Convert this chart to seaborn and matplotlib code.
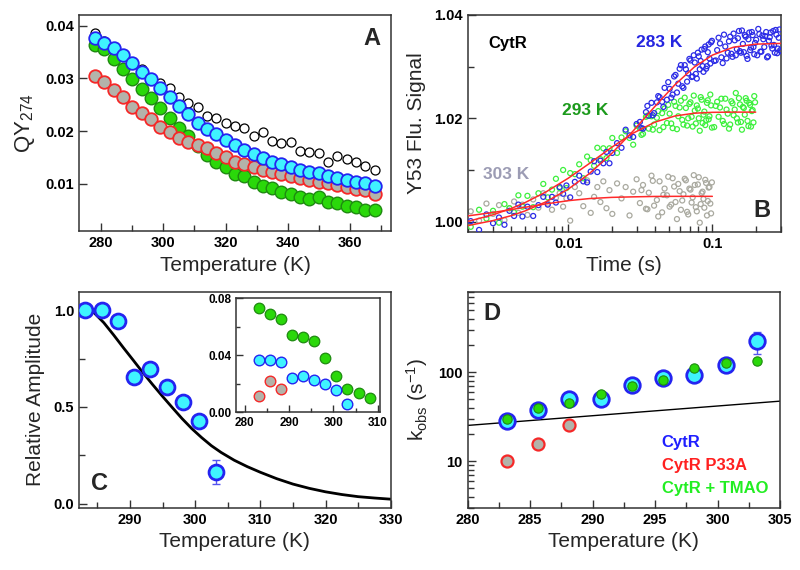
import matplotlib
matplotlib.use("Agg")
import matplotlib.pyplot as plt
import matplotlib.ticker as mticker
import numpy as np
import pandas as pd
import seaborn as sns

sns.set_theme(style="ticks")
plt.rcParams['font.family'] = ['Liberation Sans', 'DejaVu Sans']
plt.rcParams['mathtext.default'] = 'regular'
plt.rcParams['axes.linewidth'] = 1.1
plt.rcParams['axes.edgecolor'] = '#333333'

# ---------------- Panel A data ----------------
tA = [278, 281, 284, 287, 290, 293, 296, 299, 302, 305, 308, 311, 314, 317, 320, 323,
      326, 329, 332, 335, 338, 341, 344, 347, 350, 353, 356, 359, 362, 365, 368]
qy_black = [0.0386, 0.0372, 0.0360, 0.0346, 0.0332, 0.0318, 0.0300, 0.0292, 0.0281, 0.0265,
            0.0253, 0.0246, 0.0229, 0.0224, 0.0215, 0.0209, 0.0205, 0.0191, 0.0199, 0.0181,
            0.0177, 0.0179, 0.0162, 0.0161, 0.0158, 0.0141, 0.0153, 0.0147, 0.0141, 0.0134, 0.0126]
qy_cyan = [0.0376, 0.0368, 0.0357, 0.0344, 0.0330, 0.0313, 0.0298, 0.0281, 0.0265, 0.0248,
           0.0232, 0.0215, 0.0204, 0.0194, 0.0183, 0.0173, 0.0165, 0.0156, 0.0148, 0.0142,
           0.0137, 0.0132, 0.0127, 0.0123, 0.0120, 0.0115, 0.0110, 0.0107, 0.0104, 0.0101, 0.0096]
qy_green = [0.0363, 0.0356, 0.0336, 0.0317, 0.0299, 0.0280, 0.0262, 0.0243, 0.0225, 0.0205,
            0.0191, 0.0172, 0.0155, 0.0142, 0.0131, 0.0118, 0.0115, 0.0104, 0.0096, 0.0091,
            0.0085, 0.0080, 0.0075, 0.0071, 0.0074, 0.0065, 0.0063, 0.0058, 0.0056, 0.0051, 0.0050]
qy_red = [0.0304, 0.0294, 0.0278, 0.0264, 0.0246, 0.0234, 0.0222, 0.0208, 0.0199, 0.0186,
          0.0179, 0.0173, 0.0167, 0.0159, 0.0151, 0.0142, 0.0137, 0.0132, 0.0127, 0.0123,
          0.0118, 0.0115, 0.0111, 0.0107, 0.0104, 0.0101, 0.0098, 0.0094, 0.0090, 0.0088, 0.0080]

# ---------------- Panel B data ----------------
time_s = [0.0021, 0.0024, 0.0027, 0.0030, 0.0033, 0.0036, 0.0039, 0.0042, 0.0045, 0.0048,
          0.0052, 0.0057, 0.0062, 0.0067, 0.0072, 0.0077, 0.0082, 0.0087, 0.0092, 0.0097,
          0.0103, 0.0111, 0.0119, 0.0127, 0.0135, 0.0143, 0.0151, 0.0159, 0.0167, 0.0175, 0.0184, 0.0193,
          0.0202, 0.0218, 0.0234, 0.0250, 0.0266, 0.0282, 0.0298, 0.0314, 0.0330, 0.0346, 0.0362,
          0.0378, 0.0394, 0.0412, 0.0430, 0.0448, 0.0466, 0.0484,
          0.0505, 0.0530, 0.0555, 0.0580, 0.0605, 0.0630, 0.0655, 0.0680, 0.0705, 0.0730,
          0.0755, 0.0780, 0.0805, 0.0830, 0.0855, 0.0880, 0.0905, 0.0930, 0.0955, 0.0980,
          0.1030, 0.1080, 0.1130, 0.1180, 0.1230, 0.1280, 0.1330, 0.1380, 0.1430, 0.1480,
          0.1530, 0.1580, 0.1630, 0.1680, 0.1730, 0.1780, 0.1830, 0.1880, 0.1930, 0.1980,
          0.2050, 0.2120, 0.2190, 0.2260, 0.2330, 0.2400, 0.2470, 0.2540, 0.2610, 0.2680,
          0.2750, 0.2820, 0.2890, 0.2960]
time_s2 = [0.0322, 0.0354, 0.0386, 0.0421, 0.0457, 0.0494, 0.0518, 0.0543, 0.0568, 0.0593,
           0.0618, 0.0643, 0.0668, 0.0693, 0.0718, 0.0743, 0.0768, 0.0793, 0.0818, 0.0843,
           0.0868, 0.0893, 0.0918, 0.0943, 0.0968, 0.0993, 0.1055, 0.1105, 0.1155, 0.1205,
           0.1255, 0.1305, 0.1355, 0.1405, 0.1455, 0.1505, 0.1555, 0.1605, 0.1655, 0.1705,
           0.1755, 0.1805, 0.1855, 0.1905, 0.1955, 0.2015, 0.2085, 0.2155, 0.2225, 0.2295,
           0.2365, 0.2435, 0.2505, 0.2575, 0.2645, 0.2715, 0.2785, 0.2855, 0.2925, 0.2990]
sig_283 = [1.0001, 0.9984, 1.0014, 0.9997, 1.0008, 0.9994, 1.0021, 1.0011, 1.0033, 1.0010,
           1.0029, 1.0011, 1.0032, 1.0048, 1.0033, 1.0048, 1.0037, 1.0067, 1.0054, 1.0070,
           1.0047, 1.0077, 1.0089, 1.0078, 1.0076, 1.0097, 1.0117, 1.0096, 1.0118, 1.0113, 1.0135, 1.0113,
           1.0133, 1.0152, 1.0143, 1.0178, 1.0167, 1.0164, 1.0189, 1.0193, 1.0180, 1.0212, 1.0205,
           1.0230, 1.0210, 1.0231, 1.0241, 1.0232, 1.0259, 1.0236,
           1.0257, 1.0246, 1.0284, 1.0267, 1.0303, 1.0259, 1.0295, 1.0287, 1.0312, 1.0281,
           1.0308, 1.0277, 1.0320, 1.0311, 1.0301, 1.0334, 1.0296, 1.0328, 1.0316, 1.0347,
           1.0311, 1.0332, 1.0345, 1.0307, 1.0339, 1.0327, 1.0358, 1.0319, 1.0351, 1.0334,
           1.0369, 1.0327, 1.0344, 1.0361, 1.0321, 1.0353, 1.0332, 1.0367, 1.0338, 1.0346,
           1.0322, 1.0363, 1.0329, 1.0353, 1.0359, 1.0318, 1.0350, 1.0366, 1.0335, 1.0342,
           1.0371, 1.0326, 1.0356, 1.0332]
sig_283b = [1.0181, 1.0224, 1.0206, 1.0243, 1.0222, 1.0270, 1.0240, 1.0281, 1.0250, 1.0296,
            1.0262, 1.0303, 1.0271, 1.0315, 1.0280, 1.0322, 1.0286, 1.0327, 1.0295, 1.0333,
            1.0290, 1.0339, 1.0301, 1.0343, 1.0306, 1.0350, 1.0312, 1.0356, 1.0318, 1.0362,
            1.0316, 1.0349, 1.0325, 1.0364, 1.0322, 1.0355, 1.0330, 1.0370, 1.0328, 1.0358,
            1.0315, 1.0366, 1.0337, 1.0361, 1.0324, 1.0352, 1.0373, 1.0329, 1.0360, 1.0338,
            1.0367, 1.0320, 1.0357, 1.0341, 1.0369, 1.0327, 1.0362, 1.0335, 1.0372, 1.0330]
sig_293 = [0.9990, 1.0023, 1.0006, 1.0021, 0.9998, 1.0034, 1.0026, 1.0018, 1.0051, 1.0029,
           1.0050, 1.0028, 1.0055, 1.0073, 1.0047, 1.0062, 1.0083, 1.0065, 1.0100, 1.0065,
           1.0094, 1.0092, 1.0111, 1.0084, 1.0126, 1.0119, 1.0108, 1.0143, 1.0121, 1.0142, 1.0123, 1.0142,
           1.0162, 1.0133, 1.0163, 1.0175, 1.0162, 1.0149, 1.0186, 1.0181, 1.0170, 1.0203, 1.0180,
           1.0204, 1.0188, 1.0201, 1.0177, 1.0210, 1.0219, 1.0191,
           1.0209, 1.0181, 1.0224, 1.0204, 1.0234, 1.0188, 1.0220, 1.0200, 1.0231, 1.0184,
           1.0215, 1.0225, 1.0200, 1.0241, 1.0191, 1.0213, 1.0196, 1.0235, 1.0204, 1.0225,
           1.0183, 1.0232, 1.0221, 1.0195, 1.0238, 1.0209, 1.0188, 1.0229, 1.0217, 1.0200,
           1.0239, 1.0193, 1.0222, 1.0207, 1.0234, 1.0185, 1.0226, 1.0214, 1.0192, 1.0231]
sig_293b = [1.0168, 1.0205, 1.0178, 1.0214, 1.0183, 1.0226, 1.0190, 1.0232, 1.0179, 1.0221,
            1.0197, 1.0240, 1.0186, 1.0228, 1.0203, 1.0244, 1.0190, 1.0219, 1.0176, 1.0236,
            1.0207, 1.0187, 1.0230, 1.0198, 1.0246, 1.0182, 1.0224, 1.0203, 1.0238, 1.0189,
            1.0217, 1.0180, 1.0233, 1.0206, 1.0249, 1.0192, 1.0227, 1.0178, 1.0220, 1.0239,
            1.0195, 1.0230, 1.0184, 1.0216, 1.0243]
sig_303 = [1.0020, 1.0002, 1.0035, 1.0015, 1.0032, 1.0003, 1.0026, 1.0039, 1.0017, 1.0033,
           1.0013, 1.0043, 1.0027, 1.0055, 1.0035, 1.0023, 1.0046, 1.0055, 1.0029, 1.0045,
           1.0002, 1.0067, 1.0055, 1.0030, 1.0080, 1.0017, 1.0048, 1.0067, 1.0038, 1.0078, 1.0026, 1.0061,
           1.0015, 1.0074, 1.0045, 1.0067, 1.0012, 1.0058, 1.0082, 1.0036, 1.0071, 1.0025, 1.0056,
           1.0089, 1.0031, 1.0042, 1.0078, 1.0018, 1.0064, 1.0051,
           1.0029, 1.0084, 1.0038, 1.0073, 1.0023, 1.0053, 1.0080, 1.0014, 1.0062, 1.0047,
           1.0071, 1.0020, 1.0086, 1.0034, 1.0058, 1.0027, 1.0075, 1.0040, 1.0067, 1.0016]
sig_303b = [1.0061, 1.0024, 1.0079, 1.0010, 1.0052, 1.0087, 1.0033, 1.0068, 1.0005, 1.0059,
            1.0041, 1.0083, 1.0019, 1.0064, 1.0037, 1.0090, 1.0028, 1.0072, 0.9998, 1.0055,
            1.0044, 1.0081, 1.0012, 1.0066, 1.0035, 1.0076]
fit_t = [0.002, 0.003, 0.004, 0.005, 0.007, 0.010, 0.014, 0.020, 0.028, 0.040, 0.055,
         0.075, 0.100, 0.140, 0.200, 0.300]
fit_283 = [0.99923, 1.00021, 1.00115, 1.00207, 1.00384, 1.00631, 1.00930, 1.01319, 1.01747,
           1.02233, 1.02650, 1.02993, 1.03223, 1.03376, 1.03436, 1.03450]
fit_293 = [1.00004, 1.00133, 1.00254, 1.00368, 1.00576, 1.00842, 1.01126, 1.01439, 1.01709,
           1.01927, 1.02045, 1.02099, 1.02116, 1.02120, 1.02120]
fit_303 = [1.00111, 1.00178, 1.00233, 1.00278, 1.00344, 1.00406, 1.00447, 1.00470, 1.00480,
           1.00488, 1.00490, 1.00490, 1.00490]

# ---------------- Panel C data ----------------
tC = [283.15, 285.65, 288.15, 290.65, 293.15, 295.65, 298.15, 300.65, 303.15]
rel_amp = [1.0, 1.0, 0.942, 0.654, 0.697, 0.603, 0.526, 0.428, 0.166]
rel_amp_err = [0, 0, 0, 0, 0, 0, 0, 0, 0.062]
curve_T = [284.4, 286.0, 287.5, 289.0, 290.5, 292.0, 293.5, 295.0, 296.5, 298.0, 299.5, 301.0,
           302.5, 304.0, 306.0, 308.0, 310.0, 312.5, 315.0, 317.5, 320.0, 322.5, 325.0, 327.5, 330.0]
curve_amp = [0.990, 0.935, 0.872, 0.806, 0.742, 0.677, 0.615, 0.555, 0.497, 0.440, 0.388, 0.342,
             0.300, 0.265, 0.225, 0.192, 0.163, 0.130, 0.102, 0.080, 0.062, 0.048, 0.037, 0.030, 0.024]
inset_T_green = [283.15, 285.65, 288.15, 290.65, 293.15, 295.65, 298.15, 300.65, 303.15, 305.65, 308.15]
inset_green = [0.0734, 0.0688, 0.0655, 0.0543, 0.0531, 0.0502, 0.0383, 0.0257, 0.0166, 0.0134, 0.0100]
inset_T_cyan = [283.15, 285.65, 288.15, 290.65, 293.15, 295.65, 298.15, 300.65, 303.15]
inset_cyan = [0.0369, 0.0369, 0.0352, 0.0243, 0.0257, 0.0224, 0.0195, 0.0159, 0.0057]
inset_T_red = [283.15, 285.65, 288.15]
inset_red = [0.0112, 0.0219, 0.0162]

# ---------------- Panel D data ----------------
tD = [283.15, 285.65, 288.15, 290.65, 293.15, 295.65, 298.15, 300.65, 303.15]
k_cytr = [28.1, 37.1, 49.3, 50.1, 72.6, 85.7, 93.3, 118.9, 221.0]
k_cytr_err = [0, 0, 0, 0, 0, 0, 0, 0, 60]
k_tmao = [29.9, 39.5, 44.9, 57.2, 69.1, 80.6, 111.9, 127.4, 133.0]
k_tmao_err = [0, 0, 0, 0, 0, 0, 0, 0, 10]
tD_p33a = [283.15, 285.65, 288.15]
k_p33a = [10.0, 15.7, 25.3]
line_T = [280.0, 305.0]
line_k = [25.2, 47.2]
legend_labels = ["CytR", "CytR P33A", "CytR + TMAO"]

# ---------------- styling ----------------
CYAN = '#3FF3FF'
BLUE = '#2424F0'
GREEN = '#2AD80A'
DGREEN = '#1E8A10'
RED = '#F52828'
GRAYF = '#B3B3AA'
LBL = 15
TCK = 10.5

fig = plt.figure(figsize=(8, 5.7), dpi=100)


def style_ax(ax, fs=TCK):
    ax.tick_params(which='both', direction='in', top=False, right=False,
                   labelsize=fs, colors='#333333', labelcolor='black')
    ax.tick_params(which='major', length=6, width=1.0)
    ax.tick_params(which='minor', length=4, width=1.0)
    for lab in ax.get_xticklabels() + ax.get_yticklabels():
        lab.set_fontweight('bold')
    for sp in ax.spines.values():
        sp.set_visible(True)


# ===== Panel A =====
axA = fig.add_axes([0.0988, 0.5945, 0.3903, 0.3797])
sns.scatterplot(x=tA, y=qy_black, ax=axA, s=42, facecolor='white', edgecolor='black',
                linewidth=0.9, zorder=2)
sns.scatterplot(x=tA, y=qy_green, ax=axA, s=82, color=GREEN, edgecolor=DGREEN,
                linewidth=1.0, zorder=3)
sns.scatterplot(x=tA, y=qy_red, ax=axA, s=82, color=GRAYF, edgecolor=RED,
                linewidth=1.3, zorder=4)
sns.scatterplot(x=tA, y=qy_cyan, ax=axA, s=82, color=CYAN, edgecolor=BLUE,
                linewidth=1.3, zorder=5)
axA.set_xlim(272.9, 373.3)
axA.set_ylim(0.001, 0.0421)
axA.set_xticks([280, 300, 320, 340, 360])
axA.set_xticklabels(['280', '300', '320', '340', '360'])
axA.xaxis.set_minor_locator(mticker.MultipleLocator(10))
axA.set_yticks([0.01, 0.02, 0.03, 0.04])
axA.set_yticklabels(['0.01', '0.02', '0.03', '0.04'])
axA.set_xlabel('Temperature (K)', fontsize=LBL)
axA.set_ylabel('QY$_{274}$', fontsize=LBL + 1, labelpad=6)
style_ax(axA)
axA.text(0.939, 0.89, 'A', transform=axA.transAxes, fontsize=17, fontweight='bold',
         ha='center', va='center')

# ===== Panel B =====
axB = fig.add_axes([0.5846, 0.5930, 0.3917, 0.3807])
mk = dict(s=13, facecolor='none', linewidth=0.9)
sns.scatterplot(x=time_s[:len(sig_303)], y=sig_303, ax=axB, edgecolor='#A9A99F', zorder=2, **mk)
sns.scatterplot(x=time_s2[:len(sig_303b)], y=sig_303b, ax=axB, edgecolor='#A9A99F', zorder=2, **mk)
sns.scatterplot(x=time_s[:len(sig_293)], y=sig_293, ax=axB, edgecolor='#3DF03D', zorder=3, **mk)
sns.scatterplot(x=time_s2[:len(sig_293b)], y=sig_293b, ax=axB, edgecolor='#3DF03D', zorder=3, **mk)
sns.scatterplot(x=time_s, y=sig_283, ax=axB, edgecolor='#2B2BE6', zorder=4, **mk)
sns.scatterplot(x=time_s2, y=sig_283b, ax=axB, edgecolor='#2B2BE6', zorder=4, **mk)
sns.lineplot(x=fit_t, y=fit_283, ax=axB, color='#FF2A2A', linewidth=1.1, zorder=6)
sns.lineplot(x=fit_t[:len(fit_293)], y=fit_293, ax=axB, color='#FF2A2A', linewidth=1.1, zorder=6)
sns.lineplot(x=fit_t[:len(fit_303)], y=fit_303, ax=axB, color='#FF2A2A', linewidth=1.1, zorder=6)
axB.set_xscale('log')
axB.set_xlim(0.002, 0.3)
axB.set_ylim(0.998, 1.04)
axB.set_xticks([0.01, 0.1])
axB.set_xticklabels(['0.01', '0.1'])
axB.xaxis.set_minor_locator(mticker.LogLocator(base=10, subs=np.arange(2, 10)))
axB.xaxis.set_minor_formatter(mticker.NullFormatter())
axB.set_yticks([1.00, 1.02, 1.04])
axB.set_yticklabels(['1.00', '1.02', '1.04'])
axB.yaxis.set_minor_locator(mticker.MultipleLocator(0.01))
axB.set_xlabel('Time (s)', fontsize=LBL)
axB.set_ylabel('Y53 Flu. Signal', fontsize=LBL, labelpad=6)
style_ax(axB)
axB.text(0.065, 0.87, 'CytR', transform=axB.transAxes, fontsize=12, fontweight='bold',
         ha='left', va='center', color='black')
axB.text(0.611, 0.872, '283 K', transform=axB.transAxes, fontsize=12.5, fontweight='bold',
         ha='center', va='center', color='#2525E0')
axB.text(0.376, 0.562, '293 K', transform=axB.transAxes, fontsize=12.5, fontweight='bold',
         ha='center', va='center', color='#1C9A1C')
axB.text(0.122, 0.267, '303 K', transform=axB.transAxes, fontsize=12.5, fontweight='bold',
         ha='center', va='center', color='#9C9CB4')
axB.text(0.938, 0.098, 'B', transform=axB.transAxes, fontsize=17, fontweight='bold',
         ha='center', va='center')

# ===== Panel C =====
axC = fig.add_axes([0.0988, 0.1093, 0.3896, 0.3789])
sns.lineplot(x=curve_T, y=curve_amp, ax=axC, color='black', linewidth=2.0, zorder=2)
axC.errorbar(tC, rel_amp, yerr=rel_amp_err, fmt='none', ecolor='#5555EE', elinewidth=1.0,
             capsize=3, zorder=3)
sns.scatterplot(x=tC, y=rel_amp, ax=axC, s=115, color=CYAN, edgecolor=BLUE,
                linewidth=2.0, zorder=4)
axC.set_xlim(282.2, 330)
axC.set_ylim(-0.02, 1.095)
axC.set_xticks([290, 300, 310, 320, 330])
axC.set_xticklabels(['290', '300', '310', '320', '330'])
axC.xaxis.set_minor_locator(mticker.MultipleLocator(5))
axC.set_yticks([0.0, 0.5, 1.0])
axC.set_yticklabels(['0.0', '0.5', '1.0'])
axC.yaxis.set_minor_locator(mticker.MultipleLocator(0.25))
axC.set_xlabel('Temperature (K)', fontsize=LBL)
axC.set_ylabel('Relative Amplitude', fontsize=LBL, labelpad=6)
style_ax(axC)
axC.text(0.067, 0.113, 'C', transform=axC.transAxes, fontsize=17, fontweight='bold',
         ha='center', va='center')

axI = fig.add_axes([0.295, 0.2767, 0.18, 0.2])
sns.scatterplot(x=inset_T_green, y=inset_green, ax=axI, s=58, color=GREEN, edgecolor=DGREEN,
                linewidth=0.9, zorder=3)
sns.scatterplot(x=inset_T_cyan, y=inset_cyan, ax=axI, s=58, color=CYAN, edgecolor=BLUE,
                linewidth=1.0, zorder=4)
sns.scatterplot(x=inset_T_red, y=inset_red, ax=axI, s=58, color=GRAYF, edgecolor=RED,
                linewidth=1.0, zorder=4)
axI.set_xlim(278, 310.5)
axI.set_ylim(0.0, 0.08)
axI.set_xticks([280, 290, 300, 310])
axI.set_xticklabels(['280', '290', '300', '310'])
axI.xaxis.set_minor_locator(mticker.MultipleLocator(5))
axI.set_yticks([0.0, 0.04, 0.08])
axI.set_yticklabels(['0.00', '0.04', '0.08'])
axI.yaxis.set_minor_locator(mticker.MultipleLocator(0.02))
style_ax(axI, fs=8.5)
axI.tick_params(which='major', length=5)
axI.tick_params(which='minor', length=3)

# ===== Panel D =====
axD = fig.add_axes([0.5846, 0.1093, 0.3904, 0.3789])
sns.lineplot(x=line_T, y=line_k, ax=axD, color='black', linewidth=1.0, zorder=2)
axD.errorbar(tD, k_cytr, yerr=k_cytr_err, fmt='none', ecolor='#5555EE', elinewidth=1.0,
             capsize=3, zorder=3)
axD.errorbar(tD, k_tmao, yerr=k_tmao_err, fmt='none', ecolor=DGREEN, elinewidth=1.0,
             capsize=2, zorder=3)
sns.scatterplot(x=tD, y=k_cytr, ax=axD, s=125, color=CYAN, edgecolor=BLUE,
                linewidth=2.0, zorder=4)
sns.scatterplot(x=tD_p33a, y=k_p33a, ax=axD, s=75, color=GRAYF, edgecolor=RED,
                linewidth=1.6, zorder=4)
sns.scatterplot(x=tD, y=k_tmao, ax=axD, s=45, color=GREEN, edgecolor=DGREEN,
                linewidth=0.8, zorder=5)
axD.set_yscale('log')
axD.set_xlim(280, 305)
axD.set_ylim(3, 800)
axD.set_xticks([280, 285, 290, 295, 300, 305])
axD.set_xticklabels(['280', '285', '290', '295', '300', '305'])
axD.xaxis.set_minor_locator(mticker.MultipleLocator(2.5))
axD.set_yticks([10, 100])
axD.set_yticklabels(['10', '100'])
axD.yaxis.set_minor_locator(mticker.LogLocator(base=10, subs=np.arange(2, 10)))
axD.yaxis.set_minor_formatter(mticker.NullFormatter())
axD.set_xlabel('Temperature (K)', fontsize=LBL)
axD.set_ylabel('k$_{obs}$ (s$^{-1}$)', fontsize=LBL, labelpad=6)
style_ax(axD)
axD.text(0.077, 0.9, 'D', transform=axD.transAxes, fontsize=17, fontweight='bold',
         ha='center', va='center')
for lab, col, yy in zip(legend_labels, ['#1F1FFF', '#FF2020', '#22EE22'], [0.30, 0.194, 0.091]):
    axD.text(0.621, yy, lab, transform=axD.transAxes, fontsize=12, fontweight='bold',
             ha='left', va='center', color=col)

fig.savefig('out.png', dpi=100)
